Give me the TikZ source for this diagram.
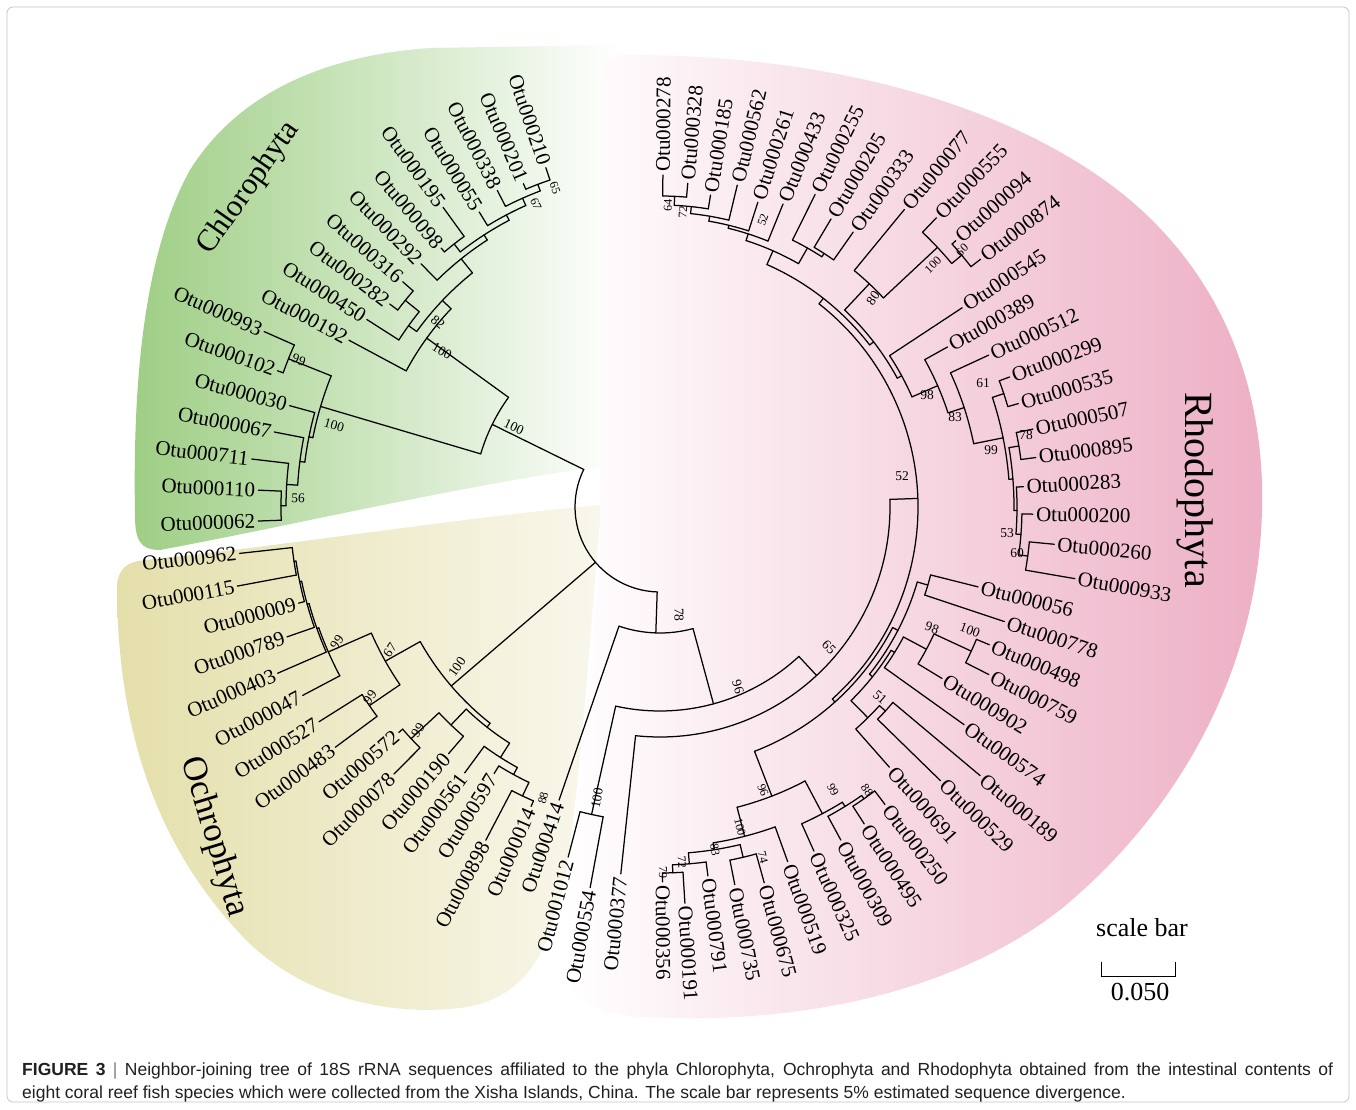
\documentclass[tikz,border=0pt]{standalone}
\usepackage{fontspec}
\setmainfont{Liberation Serif}
\newfontfamily\capfont{Liberation Sans}
\definecolor{chlo}{RGB}{158,206,132}
\definecolor{ochr}{RGB}{228,223,170}
\definecolor{ochrb}{RGB}{249,247,236}
\definecolor{rhod}{RGB}{237,175,197}
\definecolor{captxt}{RGB}{35,31,32}
\tikzset{
  tree/.style={line width=1.25pt, black, line cap=round},
  lbl/.style={font=\fontsize{21}{22}\selectfont, inner sep=1pt},
  bs/.style={font=\fontsize{13.5}{14}\selectfont, inner sep=0pt},
  bss/.style={font=\fontsize{12}{12}\selectfont, inner sep=0pt},
  grp/.style={inner sep=0pt},
  capf/.style={font=\capfont\fontsize{17.5}{19}\selectfont, text=captxt, inner sep=0pt},
  sbf/.style={font=\fontsize{26}{28}\selectfont, inner sep=0pt}
}
% radial stem + node arc
\newcommand\ND[5]{\draw[tree] (#1:#2) -- (#1:#3);
  \draw[tree] (#4:#3) arc[start angle=#4,end angle=#5,radius=#3pt];}
% leaf branch + label
\newcommand\LF[4]{%
  \draw[tree] (#1:#2) -- (#1:#3);
  \pgfmathsetmacro\lfr{#3+2}%
  \pgfmathtruncatemacro\lfneg{cos(#1)<0}%
  \ifnum\lfneg=1
    \pgfmathsetmacro\lfa{#1+180}%
    \node[lbl, rotate=\lfa, anchor=east] (L#4) at (#1:\lfr) {Otu#4};%
  \else
    \node[lbl, rotate=#1, anchor=west] (L#4) at (#1:\lfr) {Otu#4};%
  \fi}
\begin{document}
\begin{tikzpicture}[x=1pt,y=1pt]
\useasboundingbox (0,0) rectangle (1356,1109);
\fill[white] (0,0) rectangle (1356,1109);
% ---------- shaded clade areas ----------
\shade[left color=chlo, right color=white]
  (160,559) .. controls (140,559) and (135,569) .. (135,594)
  .. controls (133,709) and (140,849) .. (190,939)
  .. controls (240,1019) and (330,1054) .. (430,1061)
  -- (620,1064) -- (620,645)
  .. controls (480,628) and (300,585) .. (160,559) -- cycle;
\shade[left color=ochr, right color=ochrb]
  (145,549) .. controls (125,547) and (117,539) .. (117,519)
  .. controls (118,400) and (145,270) .. (250,165)
  .. controls (315,105) and (400,94) .. (460,101)
  .. controls (520,109) and (545,149) .. (560,209)
  .. controls (575,269) and (585,409) .. (600,589)
  -- (600,604)
  .. controls (450,590) and (300,565) .. (145,549) -- cycle;
\shade[left color=white, right color=rhod]
  (600,1029) .. controls (600,1047) and (610,1054) .. (630,1054)
  .. controls (820,1054) and (1010,1009) .. (1130,909)
  .. controls (1230,824) and (1265,709) .. (1262,599)
  .. controls (1258,429) and (1170,289) .. (1060,199)
  .. controls (950,114) and (800,87) .. (660,91)
  .. controls (600,93) and (565,104) .. (565,149)
  -- (600,549) -- cycle;
% ---------- frame ----------
\draw[gray!45, line width=0.8pt, rounded corners=6pt] (7,7) rectangle (1349,1102);
% ---------- tree ----------
\begin{scope}[shift={(660,602)}]
\draw[tree] (153.8:85) arc[start angle=153.8,end angle=268.1,radius=85pt];
% Chlorophyta
\ND{153.8}{85}{187}{144.1}{163.5}
\ND{144.1}{187}{288}{136.5}{151.8}
\LF{151.8}{288}{353}{000192}
\ND{136.5}{288}{300}{128.7}{144.2}
\ND{144.2}{300}{310}{140.95}{147.4}
\LF{147.4}{310}{348}{000450}
\ND{140.95}{310}{328}{138.8}{143.1}
\LF{138.8}{328}{342}{000316}
\LF{143.1}{328}{338}{000282}
\ND{128.7}{300}{318}{122.9}{134.5}
\LF{134.5}{318}{341}{000292}
\ND{122.9}{318}{324}{117.75}{128.05}
\ND{128.05}{324}{334}{125.9}{130.2}
\LF{125.9}{334}{370}{000195}
\LF{130.2}{334}{339}{000098}
\ND{117.75}{324}{330}{114.0}{121.5}
\LF{121.5}{330}{346}{000055}
\ND{114.0}{330}{338}{110.75}{117.2}
\LF{117.2}{338}{356}{000338}
\ND{110.75}{338}{345}{108.6}{112.9}
\LF{108.6}{345}{358}{000210}
\LF{112.9}{345}{351}{000201}
\ND{163.5}{187}{354}{158.25}{168.7}
\ND{158.25}{354}{400}{156.1}{160.4}
\LF{156.1}{400}{433}{000993}
\LF{160.4}{400}{406}{000102}
\ND{168.7}{354}{358}{164.7}{172.8}
\LF{164.7}{358}{384}{000030}
\ND{172.8}{358}{363}{169.0}{176.55}
\LF{169.0}{363}{393}{000067}
\ND{176.55}{363}{374}{173.3}{179.8}
\LF{173.3}{374}{411}{000711}
\ND{179.8}{374}{379}{177.6}{182.0}
\LF{177.6}{379}{402}{000110}
\LF{182.0}{379}{402}{000062}
% Ochrophyta
\ND{220.6}{85}{275}{209.3}{231.85}
\ND{209.3}{275}{315}{203.6}{214.35}
\ND{203.6}{315}{362}{199.5}{207.8}
\LF{207.8}{362}{404}{000047}
\ND{199.5}{362}{364}{195.4}{203.5}
\LF{203.5}{364}{417}{000403}
\ND{195.4}{364}{366}{191.7}{199.2}
\LF{199.2}{366}{395}{000789}
\ND{191.7}{366}{368}{188.45}{194.9}
\LF{194.9}{368}{374}{000009}
\ND{188.45}{368}{370}{186.3}{190.6}
\LF{186.3}{370}{423}{000962}
\LF{190.6}{370}{430}{000115}
\ND{214.35}{315}{352}{212.2}{216.5}
\LF{212.2}{352}{403}{000527}
\LF{216.5}{352}{404}{000483}
\ND{231.85}{275}{280}{226.2}{237.5}
\ND{226.2}{280}{302}{222.95}{229.4}
\LF{229.4}{302}{325}{000190}
\ND{222.95}{302}{340}{220.8}{225.1}
\LF{220.8}{340}{345}{000572}
\LF{225.1}{340}{377}{000078}
\ND{237.5}{280}{297}{233.7}{241.3}
\LF{233.7}{297}{330}{000561}
\ND{241.3}{297}{305}{238.1}{244.55}
\LF{238.1}{305}{314}{000597}
\ND{244.55}{305}{320}{242.4}{246.7}
\LF{242.4}{320}{376}{000898}
\LF{246.7}{320}{326}{000014}
% bottom / Rhodophyta
\ND{268.1}{85}{126}{251.0}{285.2}
\LF{251.0}{126}{310}{000414}
\ND{285.2}{126}{204}{257.45}{312.9}
\ND{257.45}{204}{315}{255.3}{259.6}
\LF{255.3}{315}{362}{001012}
\LF{259.6}{315}{387}{000554}
\ND{312.9}{204}{230}{263.9}{361.9}
\LF{263.9}{230}{369}{000377}
\ND{361.9}{230}{258}{311.9}{411.95}
\ND{311.9}{258}{262}{291.15}{332.6}
\ND{291.15}{262}{310}{284.4}{297.9}
\ND{284.4}{310}{340}{279.0}{289.8}
\LF{289.8}{340}{377}{000519}
\ND{279.0}{340}{347}{274.7}{283.35}
\ND{274.7}{347}{358}{272.0}{277.4}
\LF{277.4}{358}{372}{000791}
\ND{272.0}{358}{366}{270.4}{273.6}
\LF{270.4}{366}{375}{000356}
\LF{273.6}{366}{397}{000191}
\ND{283.35}{347}{360}{281.2}{285.5}
\LF{281.2}{360}{385}{000735}
\LF{285.5}{360}{390}{000675}
\ND{297.9}{310}{347}{294.1}{301.7}
\LF{294.1}{347}{377}{000325}
\ND{301.7}{347}{352}{298.5}{304.95}
\LF{298.5}{352}{379}{000309}
\ND{304.95}{352}{356}{302.8}{307.1}
\LF{302.8}{356}{377}{000495}
\LF{307.1}{356}{373}{000250}
\ND{332.6}{262}{268}{321.4}{343.75}
\ND{321.4}{268}{272}{314.6}{328.2}
\ND{314.6}{272}{296}{311.4}{317.85}
\LF{311.4}{296}{347}{000691}
\ND{317.85}{296}{304}{315.7}{320.0}
\LF{315.7}{304}{392}{000529}
\LF{320.0}{304}{418}{000189}
\ND{328.2}{272}{276}{324.4}{331.9}
\LF{324.4}{276}{374}{000574}
\ND{331.9}{276}{302}{328.7}{335.15}
\LF{328.7}{302}{330}{000902}
\ND{335.15}{302}{343}{333.0}{337.3}
\LF{333.0}{343}{369}{000759}
\LF{337.3}{343}{357}{000498}
\ND{343.75}{268}{279}{341.6}{345.9}
\LF{341.6}{279}{363}{000778}
\LF{345.9}{279}{328}{000056}
% upper Rhodophyta
\ND{51.95}{258}{265}{37.7}{66.2}
\ND{37.7}{265}{270}{28.5}{46.85}
\ND{28.5}{270}{275}{23.6}{33.4}
\LF{33.4}{275}{362}{000545}
\ND{23.6}{275}{303}{18.1}{29.1}
\LF{29.1}{303}{329}{000389}
\ND{18.1}{303}{320}{11.4}{24.8}
\LF{24.8}{320}{362}{000512}
\ND{11.4}{320}{350}{4.54}{18.25}
\ND{18.25}{350}{362}{16.1}{20.4}
\LF{16.1}{362}{373}{000535}
\LF{20.4}{362}{373}{000299}
\ND{4.54}{350}{354}{-0.575}{9.65}
\ND{9.65}{354}{364}{7.5}{11.8}
\LF{7.5}{364}{379}{000895}
\LF{11.8}{364}{381}{000507}
\ND{-0.575}{354}{357}{-4.35}{3.2}
\LF{3.2}{357}{364}{000283}
\ND{-4.35}{357}{362}{-7.6}{-1.1}
\LF{-1.1}{362}{373}{000200}
\ND{-7.6}{362}{371}{-9.8}{-5.4}
\LF{-9.8}{371}{421}{000933}
\LF{-5.4}{371}{396}{000260}
\ND{46.85}{270}{306}{43.1}{50.6}
\LF{50.6}{306}{385}{000077}
\ND{43.1}{306}{380}{39.85}{46.3}
\LF{46.3}{380}{400}{000555}
\ND{39.85}{380}{393}{37.7}{42.0}
\LF{37.7}{393}{405}{000874}
\LF{42.0}{393}{398}{000094}
\ND{66.2}{265}{280}{60.35}{72.1}
\ND{60.35}{280}{298}{57.1}{63.6}
\LF{63.6}{298}{349}{000255}
\ND{57.1}{298}{302}{54.9}{59.3}
\LF{54.9}{302}{336}{000333}
\LF{59.3}{302}{335}{000205}
\ND{72.1}{280}{287}{67.9}{76.25}
\LF{67.9}{287}{327}{000433}
\ND{76.25}{287}{290}{72.2}{80.3}
\LF{72.2}{290}{320}{000261}
\ND{80.3}{290}{295}{76.5}{84.05}
\LF{76.5}{295}{331}{000562}
\ND{84.05}{295}{302}{80.8}{87.3}
\LF{80.8}{302}{316}{000185}
\ND{87.3}{302}{311}{85.1}{89.5}
\LF{85.1}{311}{325}{000328}
\LF{89.5}{311}{332}{000278}
\end{scope}
% ---------- bootstrap values ----------
\node[bss, rotate=-70] (b1) at (555,921) {65};
\node[bss, rotate=-66] (b2) at (536,905) {67};
\node[bs, rotate=-40] (b3) at (438,787) {82};
\node[bs, rotate=-30] (b4) at (442,758) {100};
\node[bs, rotate=-20] (b5) at (299,749) {99};
\node[bs, rotate=-16] (b6) at (334,684) {100};
\node[bs, rotate=-3] (b7) at (298,611) {56};
\node[bs, rotate=-25] (b8) at (514,682) {100};
\node[bs, rotate=55] (b9) at (337,467) {99};
\node[bs, rotate=55] (b10) at (390,459) {67};
\node[bs, rotate=55] (b11) at (457,442) {100};
\node[bs, rotate=55] (b12) at (370,412) {99};
\node[bs, rotate=55] (b13) at (418,379) {99};
\node[bss, rotate=75] (b14) at (543,311) {88};
\node[bs, rotate=-90] (b15) at (679,494) {78};
\node[bs, rotate=-73] (b16) at (738,422) {96};
\node[bs, rotate=-45] (b17) at (829,462) {65};
\node[bs] (b18) at (902,633) {52};
\node[bs, rotate=80] (b19) at (597,311) {100};
\node[bss, rotate=-67] (b20) at (763,319) {96};
\node[bss, rotate=-76] (b21) at (740,282) {100};
\node[bss, rotate=-80] (b22) at (715,259) {83};
\node[bss, rotate=-86] (b23) at (682,247) {72};
\node[bss, rotate=-90] (b24) at (663,237) {79};
\node[bss, rotate=-75] (b25) at (763,252) {74};
\node[bss, rotate=-62] (b26) at (833,319) {99};
\node[bss, rotate=-55] (b27) at (867,319) {88};
\node[bs, rotate=-40] (b28) at (880,412) {51};
\node[bs, rotate=-20] (b29) at (932,481) {98};
\node[bs, rotate=-20] (b30) at (970,479) {100};
\node[bs] (b31) at (1017,556) {60};
\node[bs] (b32) at (1007,576) {53};
\node[bs] (b33) at (991,659) {99};
\node[bs] (b34) at (1026,674) {78};
\node[bs] (b35) at (955,692) {83};
\node[bs] (b36) at (927,714) {98};
\node[bs] (b37) at (983,726) {61};
\node[bs, rotate=55] (b38) at (873,811) {80};
\node[bss, rotate=45] (b39) at (933,844) {100};
\node[bss, rotate=45] (b40) at (962,859) {60};
\node[bss, rotate=70] (b41) at (763,889) {52};
\node[bss, rotate=85] (b42) at (683,897) {72};
\node[bss, rotate=88] (b43) at (668,904) {64};
% ---------- clade names ----------
\node[grp, font=\fontsize{31}{31}\selectfont, rotate=55] (gchl) at (249,921) {Chlorophyta};
\node[grp, font=\fontsize{35}{35}\selectfont, rotate=-73] (goch) at (214,272) {Ochrophyta};
\node[grp, font=\fontsize{40}{40}\selectfont, rotate=-90] (grho) at (1195,619) {Rhodophyta};
% ---------- scale bar ----------
\node[sbf] (sbt) at (1142,181) {scale bar};
\coordinate (sb1) at (1101,147);
\coordinate (sb2) at (1175,147);
\draw[line width=1pt] (sb1) -- ++(0,-14) -| (sb2);
\node[sbf] (sbn) at (1140,117) {0.050};
% ---------- caption ----------
\node[capf, anchor=base west] (cap1) at (22,34) {\makebox[1311pt][s]{\textbf{FIGURE 3} {\color{gray}|} Neighbor-joining tree of 18S rRNA sequences affiliated to the phyla Chlorophyta, Ochrophyta and Rhodophyta obtained from the intestinal contents of}};
\node[capf, anchor=base west] (cap2) at (22,11) {eight coral reef fish species which were collected from the Xisha Islands, China. The scale bar represents 5\% estimated sequence divergence.};
\end{tikzpicture}
\end{document}
